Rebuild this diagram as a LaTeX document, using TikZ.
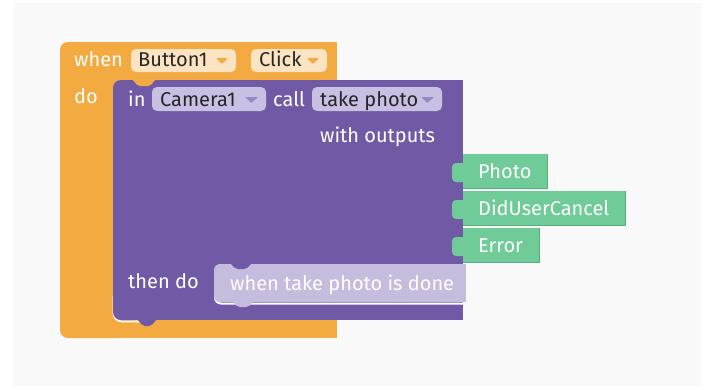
\documentclass[tikz,border=0pt]{standalone}
\usepackage{fontspec}
\setmainfont{Fira Sans}
\definecolor{pagegray}{HTML}{F9F9F9}
\definecolor{ctrlorange}{HTML}{F2AA41}
\definecolor{ctrlfield}{HTML}{FCE3C1}
\definecolor{methpurple}{HTML}{715AA5}
\definecolor{methfield}{HTML}{C9BFE2}
\definecolor{metharrow}{HTML}{9A88C6}
\definecolor{doneblock}{HTML}{C6BCDE}
\definecolor{outgreen}{HTML}{6FCB97}
\definecolor{outdark}{HTML}{55B07E}
\begin{document}
\begin{tikzpicture}[x=1pt,y=-1pt,
  every node/.style={font=\fontsize{20}{22}\selectfont, inner sep=0pt, anchor=base west},
  lbl/.style={text=white}, fldtxt/.style={text=black!85}]
  \useasboundingbox (0,0) rectangle (705,389);
  \fill[pagegray] (13,3) rectangle (702,386);

  \fill[ctrlorange, rounded corners=8] (60,42) rectangle (125,338);
  \fill[ctrlorange] (90,42) rectangle (337,80);
  \fill[ctrlorange] (90,320) rectangle (337,338);

  \draw[white, line width=1.6, rounded corners=8] (113.5,296) -- (113.5,321.5) -- (140,321.5);
  \fill[methpurple, rounded corners=8] (113,80) rectangle (140,320);
  \fill[methpurple] (125,80) rectangle (463,320);
  \fill[ctrlorange, rounded corners=2] (132,79) -- (138,86) -- (150,86) -- (156,79) -- cycle;
  \fill[methpurple, rounded corners=2] (137,319) -- (143,326) -- (151,326) -- (157,319) -- cycle;

  \fill[ctrlfield, rounded corners=5] (131,49) rectangle (236,72);
  \fill[ctrlfield, rounded corners=5] (251,49) rectangle (327,72);
  \fill[ctrlorange, rounded corners=1] (216,58) -- (228,58) -- (222,64) -- cycle;
  \fill[ctrlorange, rounded corners=1] (307,58) -- (319,58) -- (313,64) -- cycle;

  \fill[methfield, rounded corners=5] (152,87) rectangle (266,111);
  \fill[methfield, rounded corners=5] (312,87) rectangle (442,111);
  \fill[metharrow, rounded corners=1] (245,97) -- (258,97) -- (251.5,103) -- cycle;
  \fill[metharrow, rounded corners=1] (421,97) -- (434,97) -- (427.5,103) -- cycle;

  \draw[white, line width=2, rounded corners=6] (215,284) -- (215,303.5) -- (466,303.5);
  \fill[doneblock, rounded corners=6] (214,264) rectangle (240,302);
  \fill[doneblock] (226,264) rectangle (466,302);
  \fill[methpurple, rounded corners=2] (230,263) -- (236,269) -- (246,269) -- (252,263) -- cycle;
  \fill[doneblock, rounded corners=2] (232,301) -- (238,307) -- (248,307) -- (254,301) -- cycle;

  \foreach \top/\right in {154/548, 191/626, 228/540} {
    \fill[outdark] (463,\top) rectangle (\right,\top+35);
    \fill[outgreen] (463,\top) rectangle (\right-1.5,\top+33.5);
    \fill[outgreen, rounded corners=4] (452,\top+9) rectangle (466,\top+28);
  }

  \node[lbl] (when) at (74,66) {when};
  \node[fldtxt] (button) at (138,66) {Button1};
  \node[fldtxt] (click) at (259,66) {Click};
  \node[lbl] (do) at (74,103) {do};
  \node[lbl] (in) at (128,106) {in};
  \node[fldtxt] (camera) at (160,106) {Camera1};
  \node[lbl] (call) at (273,106) {call};
  \node[fldtxt] (method) at (320,106) {take photo};
  \node[lbl] (outputs) at (320,142) {with outputs};
  \node[lbl] (photo) at (478,178) {Photo};
  \node[lbl] (cancel) at (478,215) {DidUserCancel};
  \node[lbl] (error) at (478,252) {Error};
  \node[lbl] (thendo) at (128,288) {then do};
  \node[lbl] (done) at (230,290) {when take photo is done};
\end{tikzpicture}
\end{document}
